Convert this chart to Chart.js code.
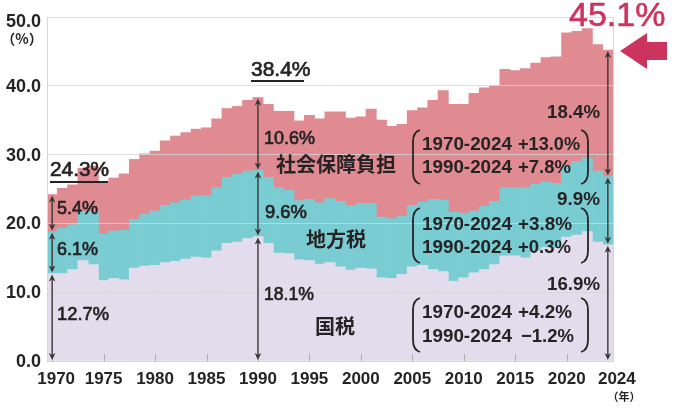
<!DOCTYPE html>
<html lang="ja">
<head>
<meta charset="utf-8">
<script src="https://cdn.jsdelivr.net/npm/chart.js@4.4.1/dist/chart.umd.min.js"></script>
<style>
  html, body { margin: 0; padding: 0; background: #fff; }
  #wrap { width: 675px; height: 418px; }
</style>
</head>
<body>
<div id="wrap"><canvas id="burdenChart" width="675" height="418"></canvas></div>
<script>
// Years on the x axis
const years = [
  '1970','1971','1972','1973','1974','1975','1976','1977','1978','1979',
  '1980','1981','1982','1983','1984','1985','1986','1987','1988','1989',
  '1990','1991','1992','1993','1994','1995','1996','1997','1998','1999',
  '2000','2001','2002','2003','2004','2005','2006','2007','2008','2009',
  '2010','2011','2012','2013','2014','2015','2016','2017','2018','2019',
  '2020','2021','2022','2023','2024'
];

// 国税 (%)
const nationalTax = [
  12.7, 12.7, 13.3, 14.6, 14.0, 11.7, 12.0, 11.8, 13.5, 13.8,
  13.9, 14.3, 14.5, 14.8, 15.1, 15.0, 16.0, 17.1, 17.3, 17.8,
  18.1, 17.1, 15.7, 15.6, 14.7, 14.6, 14.1, 14.3, 13.7, 13.2,
  13.5, 13.4, 12.1, 12.0, 12.6, 13.7, 13.9, 13.3, 13.0, 11.6,
  12.1, 12.8, 13.3, 14.0, 15.3, 15.3, 15.0, 16.0, 16.5, 16.4,
  18.0, 18.3, 18.8, 17.3, 16.9
];

// 地方税 (%)
const localTax = [
  6.1, 6.6, 6.5, 7.1, 7.7, 6.8, 6.9, 7.2, 7.1, 7.5,
  7.9, 8.3, 8.5, 8.6, 8.9, 9.0, 9.2, 9.6, 9.8, 9.8,
  9.6, 9.6, 9.5, 9.2, 8.6, 8.9, 8.9, 9.3, 9.5, 9.4,
  9.4, 9.5, 8.8, 8.7, 8.4, 8.9, 9.2, 10.2, 10.4, 10.0,
  9.4, 9.0, 9.2, 9.2, 9.9, 9.9, 10.2, 9.7, 9.5, 9.4,
  10.4, 10.7, 10.7, 10.3, 9.9
];

// 社会保障負担 (%)
const socialSecurity = [
  5.4, 5.8, 5.8, 6.3, 6.6, 7.5, 7.7, 8.2, 8.7, 8.8,
  8.7, 9.4, 9.7, 9.8, 9.7, 9.9, 10.0, 10.0, 9.9, 10.3,
  10.6, 10.6, 11.1, 11.5, 11.6, 12.2, 12.2, 12.6, 13.0, 12.7,
  12.6, 13.7, 14.1, 13.4, 13.4, 13.8, 13.7, 14.4, 15.9, 15.7,
  15.8, 17.1, 17.2, 16.8, 17.2, 17.0, 17.3, 17.6, 18.1, 18.4,
  19.3, 18.9, 18.8, 18.4, 18.4
];

const yTickLabels = ['0.0', '10.0', '20.0', '30.0', '40.0', '50.0'];
const xTickYears = ['1970','1975','1980','1985','1990','1995','2000','2005','2010','2015','2020','2024'];

// years where the breakdown arrows are drawn
const arrowYears = ['1970', '1990', '2024'];

const LAT = '"Liberation Sans", Arial, sans-serif';
const JP = '"Noto Sans CJK JP", sans-serif';
const INK = '#262324';
const ACCENT = '#cc3460';

// small double headed arrow between two pixel heights
function vArrow(ctx, px, yBottom, yTop) {
  const h = 7, w = 3.3;
  const b = yBottom - 1, t = yTop + 1;
  ctx.beginPath();
  ctx.moveTo(px, b - 3);
  ctx.lineTo(px, t + 3);
  ctx.stroke();
  ctx.beginPath();
  ctx.moveTo(px, t);
  ctx.lineTo(px - w, t + h);
  ctx.lineTo(px, t + h - 2);
  ctx.lineTo(px + w, t + h);
  ctx.closePath();
  ctx.fill();
  ctx.beginPath();
  ctx.moveTo(px, b);
  ctx.lineTo(px - w, b - h);
  ctx.lineTo(px, b - h + 2);
  ctx.lineTo(px + w, b - h);
  ctx.closePath();
  ctx.fill();
}

function paren(ctx, x, top, bottom, dir) {
  // dir 1 = "(" , -1 = ")"
  const c = 7 * dir;
  ctx.beginPath();
  ctx.moveTo(x + c, top);
  ctx.quadraticCurveTo(x, top + 2, x, top + 12);
  ctx.lineTo(x, bottom - 12);
  ctx.quadraticCurveTo(x, bottom - 2, x + c, bottom);
  ctx.stroke();
}

function text(ctx, str, x, y, font, align, maxW, heavy) {
  ctx.font = font;
  ctx.textAlign = align || 'left';
  ctx.textBaseline = 'middle';
  if (maxW) ctx.fillText(str, x, y, maxW);
  else ctx.fillText(str, x, y);
  if (heavy) {
    // fake a medium weight
    ctx.save();
    ctx.lineWidth = heavy;
    ctx.strokeStyle = ctx.fillStyle;
    if (maxW) ctx.strokeText(str, x, y, maxW);
    else ctx.strokeText(str, x, y);
    ctx.restore();
  }
}

const overlay = {
  id: 'overlay',
  afterDraw(chart) {
    const { ctx, chartArea: a, scales: { x, y } } = chart;
    ctx.save();

    // right frame
    ctx.strokeStyle = '#d6d6d6';
    ctx.lineWidth = 1;
    ctx.beginPath();
    ctx.moveTo(Math.round(a.right) + 0.5, a.top);
    ctx.lineTo(Math.round(a.right) + 0.5, a.bottom);
    ctx.stroke();

    // short tick marks on the baseline
    ctx.strokeStyle = 'rgba(170,170,170,0.9)';
    xTickYears.slice(0, -1).forEach(yr => {
      const px = Math.round(x.getPixelForValue(years.indexOf(yr))) + 0.5;
      ctx.beginPath();
      ctx.moveTo(px, a.bottom);
      ctx.lineTo(px, a.bottom - 7);
      ctx.stroke();
    });

    // y tick labels
    ctx.fillStyle = INK;
    yTickLabels.forEach((lab, i) => {
      let py = y.getPixelForValue(i * 10) + 1;
      if (i === yTickLabels.length - 1) py += 4;
      text(ctx, lab, 41, py, 'bold 18px ' + LAT, 'right');
    });
    text(ctx, '（%）', 22, 39, 'bold 14px ' + JP, 'center');

    // x tick labels
    xTickYears.forEach(yr => {
      let px = x.getPixelForValue(years.indexOf(yr));
      if (yr === '1970') px += 4;
      if (yr === '2024') px += 9;
      text(ctx, yr, px, 379, 'bold 17px ' + LAT, 'center');
    });
    text(ctx, '（年）', 624, 397, 'bold 11px ' + JP, 'center');

    // breakdown arrows
    ctx.strokeStyle = '#3a3637';
    ctx.fillStyle = '#3a3637';
    ctx.lineWidth = 1.4;
    arrowYears.forEach(yr => {
      const i = years.indexOf(yr);
      const px = x.getPixelForValue(i);
      const v1 = nationalTax[i];
      const v2 = v1 + localTax[i];
      const v3 = v2 + socialSecurity[i];
      vArrow(ctx, px, y.getPixelForValue(0), y.getPixelForValue(v1));
      vArrow(ctx, px, y.getPixelForValue(v1), y.getPixelForValue(v2));
      vArrow(ctx, px, y.getPixelForValue(v2), y.getPixelForValue(v3));
    });

    ctx.fillStyle = INK;
    const mid = '19px ' + LAT;
    const bold = 'bold 19px ' + LAT;
    // 1970 and 1990 values
    text(ctx, '5.4%', 57, 209, mid, 'left', 41, 0.7);
    text(ctx, '6.1%', 57, 250, mid, 'left', 41, 0.7);
    text(ctx, '12.7%', 57, 315, mid, 'left', 52, 0.7);
    text(ctx, '10.6%', 264, 139, mid, 'left', 51, 0.7);
    text(ctx, '9.6%', 265, 213, mid, 'left', 42, 0.7);
    text(ctx, '18.1%', 264, 295, mid, 'left', 50, 0.7);
    // 2024 values
    text(ctx, '18.4%', 600, 113, bold, 'right', 53);
    text(ctx, '9.9%', 600, 200, bold, 'right', 43);
    text(ctx, '16.9%', 600, 285, bold, 'right', 53);

    // totals
    text(ctx, '24.3%', 50, 170, '21px ' + LAT, 'left', 59, 0.7);
    text(ctx, '38.4%', 251, 70, '21px ' + LAT, 'left', 60, 0.7);
    ctx.fillRect(50, 181, 58, 2);
    ctx.fillRect(251, 80, 53, 2);

    // series names
    text(ctx, '社会保障負担', 336, 164, 'bold 20px ' + JP, 'center');
    text(ctx, '地方税', 336, 239, 'bold 20px ' + JP, 'center');
    text(ctx, '国税', 335, 326, 'bold 20px ' + JP, 'center');

    // change brackets
    const groups = [
      { top: 130, bottom: 184, l1: '+13.0%', l2: '+7.8%', y1: 145, y2: 168 },
      { top: 208, bottom: 263, l1: '+3.8%', l2: '+0.3%', y1: 225, y2: 248 },
      { top: 298, bottom: 352, l1: '+4.2%', l2: '\u22121.2%', y1: 313, y2: 337 }
    ];
    ctx.strokeStyle = INK;
    ctx.lineWidth = 1.8;
    groups.forEach(g => {
      paren(ctx, 413, g.top, g.bottom, 1);
      paren(ctx, 588, g.top, g.bottom, -1);
      text(ctx, '1970-2024', 422, g.y1, bold, 'left', 90);
      text(ctx, '1990-2024', 422, g.y2, bold, 'left', 90);
      text(ctx, g.l1, 518, g.y1, bold, 'left', g.l1.length > 5 ? 62 : 54);
      text(ctx, g.l2, g.l2[0] === '+' ? 518 : 521, g.y2, bold, 'left', 53);
    });

    // 45.1% callout
    ctx.fillStyle = ACCENT;
    ctx.strokeStyle = ACCENT;
    ctx.lineWidth = 0.6;
    ctx.font = '34px ' + LAT;
    ctx.textAlign = 'left';
    ctx.textBaseline = 'alphabetic';
    ctx.fillText('45.1%', 569, 26, 98);
    ctx.strokeText('45.1%', 569, 26, 98);
    ctx.beginPath();
    ctx.moveTo(620, 51);
    ctx.lineTo(647, 33);
    ctx.lineTo(647, 42);
    ctx.lineTo(667, 42);
    ctx.lineTo(667, 60);
    ctx.lineTo(647, 60);
    ctx.lineTo(647, 69);
    ctx.closePath();
    ctx.fill();

    ctx.restore();
  }
};

const ctx = document.getElementById('burdenChart').getContext('2d');
const burdenChart = new Chart(ctx, {
  type: 'bar',
  data: {
    labels: years,
    datasets: [
      { label: '国税', data: nationalTax, backgroundColor: '#e2dcec' },
      { label: '地方税', data: localTax, backgroundColor: '#79cdd2' },
      { label: '社会保障負担', data: socialSecurity, backgroundColor: '#df8b91' }
    ]
  },
  options: {
    responsive: false,
    animation: false,
    devicePixelRatio: 1,
    layout: { padding: { left: 47, right: 62, top: 17, bottom: 57 } },
    datasets: {
      bar: { barPercentage: 1, categoryPercentage: 1, borderWidth: 0 }
    },
    plugins: {
      legend: { display: false },
      tooltip: { enabled: false }
    },
    scales: {
      x: {
        stacked: true,
        ticks: { display: false },
        grid: { display: false, drawTicks: false },
        border: { display: true, color: '#d6d6d6' }
      },
      y: {
        stacked: true,
        min: 0,
        max: 50,
        ticks: { display: false, stepSize: 10 },
        grid: { color: 'rgba(214,214,214,0.8)', drawTicks: false, z: 1 },
        border: { display: true, color: '#d6d6d6', z: 1 }
      }
    }
  },
  plugins: [overlay]
});
</script>
</body>
</html>
